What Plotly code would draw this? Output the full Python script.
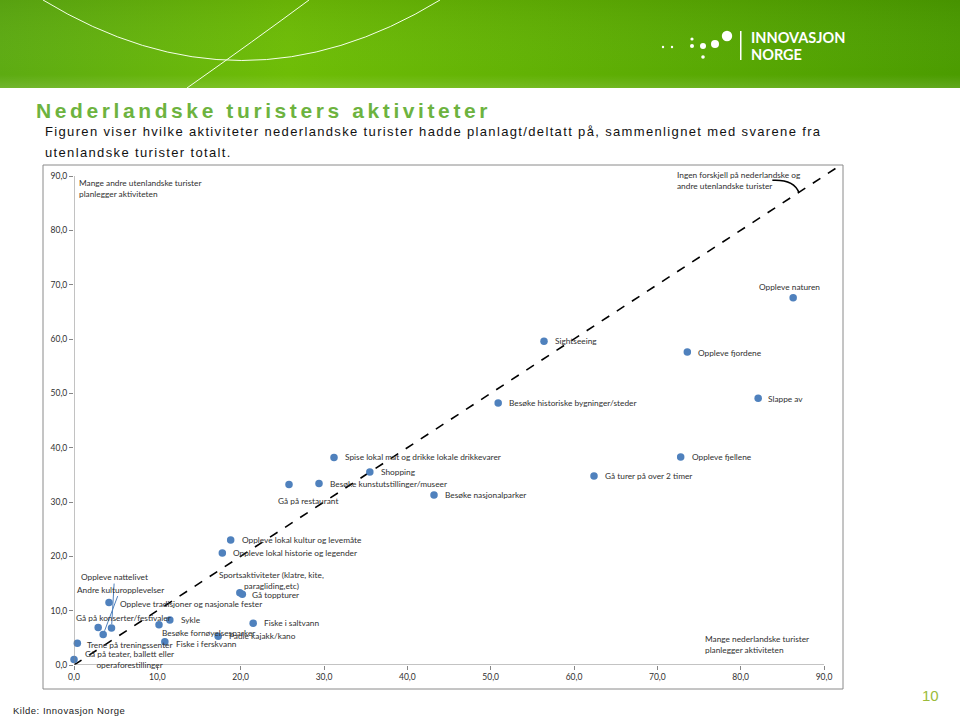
import urllib.parse
import plotly.graph_objects as go

# ---------------- data ----------------
activities = [
    "Oppleve naturen", "Sightseeing", "Oppleve fjordene", "Slappe av",
    "Besøke historiske bygninger/steder", "Oppleve fjellene", "Gå turer på over 2 timer",
    "Spise lokal mat og drikke lokale drikkevarer", "Shopping",
    "Besøke kunstutstillinger/museer", "Gå på restaurant", "Besøke nasjonalparker",
    "Oppleve lokal kultur og levemåte", "Oppleve lokal historie og legender",
    "Sportsaktiviteter (klatre, kite,<br>paragliding,etc)", "Gå toppturer",
    "Oppleve tradisjoner og nasjonale fester", "Oppleve nattelivet",
    "Andre kulturopplevelser", "Gå på konserter/festivaler", "Trene på treningssenter",
    "Gå på teater, ballett eller<br>operaforestillinger", "Sykle",
    "Besøke fornøyelsesparker", "Fiske i ferskvann", "Padle kajakk/kano", "Fiske i saltvann",
]
dutch_pct = [86.3, 56.4, 73.6, 82.1, 50.9, 72.8, 62.4, 31.2, 35.5, 29.4, 25.8, 43.2,
             18.8, 17.8, 19.9, 20.2, 4.2, 4.5, 3.5, 2.9, 0.4, 0.0, 11.5, 10.2, 10.9, 17.3, 21.5]
other_pct = [67.6, 59.6, 57.6, 49.1, 48.2, 38.3, 34.8, 38.2, 35.5, 33.4, 33.2, 31.3,
             23.0, 20.6, 13.3, 13.0, 11.5, 6.8, 5.6, 6.9, 4.0, 1.0, 8.3, 7.4, 4.3, 5.3, 7.7]
tick_values = [0, 10, 20, 30, 40, 50, 60, 70, 80, 90]

# ---------------- layout helpers ----------------
W, H = 960, 717
L, R, T, B = 74, 842, 166, 665          # plot-area pixel box
X_MAX, Y_MAX = 92.16, 91.84


def px(x):
    return (x - L) / (R - L)


def py(y):
    return (B - y) / (B - T)


LBL_FONT = dict(family="Lato, Liberation Sans, sans-serif", size=8.3, color="#303030")
BLUE = "#4f81bd"

# label placement (pixel offsets relative to each dot): xanchor, xshift, yshift, yanchor, align
default_place = ("left", 9, 0, "middle", "left")
place = {
    "Oppleve naturen": ("center", -4, 11, "middle", "center"),
    "Gå på restaurant": ("center", 19, -16, "middle", "center"),
    "Sportsaktiviteter (klatre, kite,<br>paragliding,etc)": ("center", 32, 0, "bottom", "center"),
    "Gå toppturer": ("left", 8, -1, "middle", "left"),
    "Oppleve tradisjoner og nasjonale fester": ("left", 9, -1, "middle", "left"),
    "Gå på konserter/festivaler": ("center", 25, 10, "middle", "center"),
    "Trene på treningssenter": ("left", 8, -2, "middle", "left"),
    "Gå på teater, ballett eller<br>operaforestillinger": ("center", 55, 0, "middle", "center"),
    "Besøke fornøyelsesparker": ("left", 1, -8, "middle", "left"),
    "Fiske i ferskvann": ("left", 9, -2, "middle", "left"),
    "Oppleve fjordene": ("left", 9, -1, "middle", "left"),
    "Slappe av": ("left", 8, -1, "middle", "left"),
}
leader = {  # labels connected with a thin line: text offset (ax, ay) in px
    "Oppleve nattelivet": (3, -51),
    "Andre kulturopplevelser": (17, -45),
}

fig = go.Figure()

# identity line (no difference)
fig.add_trace(go.Scatter(x=[0, X_MAX], y=[0, X_MAX], mode="lines",
                         line=dict(color="black", width=1.6, dash="dash"),
                         hoverinfo="skip", showlegend=False))
fig.add_trace(go.Scatter(x=dutch_pct, y=other_pct, mode="markers",
                         marker=dict(color=BLUE, size=7.5),
                         text=activities, cliponaxis=False, showlegend=False))

annotations = []
for name, xv, yv in zip(activities, dutch_pct, other_pct):
    if name in leader:
        ax, ay = leader[name]
        annotations.append(dict(x=xv, y=yv, xref="x", yref="y", text=name, showarrow=True,
                                ax=ax, ay=ay, arrowhead=0, arrowwidth=1, arrowcolor=BLUE,
                                standoff=4, font=LBL_FONT))
        continue
    xa, xs, ys, ya, al = place.get(name, default_place)
    annotations.append(dict(x=xv, y=yv, xref="x", yref="y", text=name, showarrow=False,
                            xanchor=xa, yanchor=ya, xshift=xs, yshift=ys, align=al,
                            font=LBL_FONT))

# corner notes
annotations += [
    dict(x=px(77), y=py(176), xref="paper", yref="paper", xanchor="left", yanchor="top",
         align="left", showarrow=False, font=LBL_FONT,
         text="Mange andre utenlandske turister<br>planlegger aktiviteten"),
    dict(x=px(675), y=py(168), xref="paper", yref="paper", xanchor="left", yanchor="top",
         align="left", showarrow=False, font=LBL_FONT,
         text="Ingen forskjell på nederlandske og<br>andre utenlandske turister"),
    dict(x=px(703), y=py(632), xref="paper", yref="paper", xanchor="left", yanchor="top",
         align="left", showarrow=False, font=LBL_FONT,
         text="Mange nederlandske turister<br>planlegger aktiviteten"),
]

# page texts
annotations += [
    dict(x=px(34), y=py(110), xref="paper", yref="paper", xanchor="left", yanchor="middle",
         showarrow=False,
         text='<b><span style="letter-spacing:3.6px">Nederlandske turisters aktiviteter</span></b>',
         font=dict(family="Liberation Sans, Arial, sans-serif", size=21, color="#6db33f")),
    dict(x=px(43), y=py(131), xref="paper", yref="paper", xanchor="left", yanchor="middle",
         showarrow=False,
         text='<span style="letter-spacing:1.35px">Figuren viser hvilke aktiviteter nederlandske '
              'turister hadde planlagt/deltatt på, sammenlignet med svarene fra</span>',
         font=dict(family="Liberation Sans, Arial, sans-serif", size=13, color="#111111")),
    dict(x=px(43), y=py(152), xref="paper", yref="paper", xanchor="left", yanchor="middle",
         showarrow=False,
         text='<span style="letter-spacing:1.35px">utenlandske turister totalt.</span>',
         font=dict(family="Liberation Sans, Arial, sans-serif", size=13, color="#111111")),
    dict(x=px(930), y=py(695), xref="paper", yref="paper", xanchor="center", yanchor="middle",
         showarrow=False, text="10",
         font=dict(family="Liberation Sans, Arial, sans-serif", size=15, color="#9bbb3b")),
    dict(x=px(11), y=py(710), xref="paper", yref="paper", xanchor="left", yanchor="middle",
         showarrow=False, text='<span style="letter-spacing:0.5px">Kilde: Innovasjon Norge</span>',
         font=dict(family="Liberation Sans, Arial, sans-serif", size=9.5, color="#222222")),
    dict(x=px(749), y=py(37), xref="paper", yref="paper", xanchor="left", yanchor="middle",
         showarrow=False, text="<b>INNOVASJON</b>",
         font=dict(family="Lato, sans-serif", size=14.5, color="white")),
    dict(x=px(749), y=py(54), xref="paper", yref="paper", xanchor="left", yanchor="middle",
         showarrow=False, text="<b>NORGE</b>",
         font=dict(family="Lato, sans-serif", size=14.5, color="white")),
]

# header banner as inline SVG
svg = (
    "<svg xmlns='http://www.w3.org/2000/svg' width='960' height='88' viewBox='0 0 960 88' "
    "preserveAspectRatio='none'>"
    "<defs><linearGradient id='g' x1='0' x2='1' y1='0' y2='0'>"
    "<stop offset='0' stop-color='#5dab12'/><stop offset='0.3' stop-color='#6ebd06'/>"
    "<stop offset='0.55' stop-color='#62b204'/><stop offset='1' stop-color='#4b9c00'/>"
    "</linearGradient>"
    "<linearGradient id='v' x1='0' x2='0' y1='0' y2='1'>"
    "<stop offset='0' stop-color='#000' stop-opacity='0.06'/>"
    "<stop offset='0.85' stop-color='#fff' stop-opacity='0'/>"
    "<stop offset='1' stop-color='#fff' stop-opacity='0.12'/></linearGradient></defs>"
    "<rect width='960' height='88' fill='url(#g)'/>"
    "<rect width='960' height='88' fill='url(#v)'/>"
    "<path d='M43,0 Q242,121 440,0' stroke='#f4ffe8' stroke-width='1' fill='none'/>"
    "<path d='M309,0 Q255,40 187,88' stroke='#f4ffe8' stroke-width='1' fill='none'/>"
    "<g fill='white'>"
    "<circle cx='663' cy='47' r='1.2'/><circle cx='672' cy='47' r='1.2'/>"
    "<circle cx='692' cy='39' r='1.6'/><circle cx='692' cy='46' r='2'/>"
    "<circle cx='703' cy='46' r='3'/><circle cx='715' cy='44' r='4'/>"
    "<circle cx='727' cy='36' r='5.2'/><circle cx='703' cy='57' r='1.8'/>"
    "<rect x='740' y='31' width='1.5' height='29'/></g>"
    "</svg>"
)
img_src = "data:image/svg+xml;charset=utf-8," + urllib.parse.quote(svg)

shapes = [
    # chart frame
    dict(type="rect", xref="paper", yref="paper", x0=px(43), x1=px(843), y0=py(689), y1=py(165),
         line=dict(color="#8a8a8a", width=1), layer="below"),
    # axis lines
    dict(type="line", xref="x", yref="y", x0=0, x1=tick_values[-1], y0=0, y1=0,
         line=dict(color="#868686", width=1)),
    dict(type="line", xref="x", yref="y", x0=0, x1=0, y0=0, y1=tick_values[-1],
         line=dict(color="#868686", width=1)),
    # curved pointer to the identity line
    dict(type="path", xref="x", yref="y", path="M 83.8,89.2 Q 86.4,89.4 87.0,86.9",
         line=dict(color="black", width=1.5)),
]

axis_common = dict(showgrid=False, zeroline=False, showline=False, ticks="outside",
                   ticklen=4, tickcolor="#868686", tickvals=tick_values, tickformat=".1f",
                   tickfont=dict(family="Lato, Liberation Sans, sans-serif", size=8.5,
                                 color="#303030"))

fig.update_layout(
    width=W, height=H, autosize=False,
    margin=dict(l=L, r=W - R, t=T, b=H - B, pad=0),
    paper_bgcolor="white", plot_bgcolor="rgba(0,0,0,0)",
    separators=",.",
    xaxis=dict(range=[0, X_MAX], **axis_common),
    yaxis=dict(range=[0, Y_MAX], **axis_common),
    annotations=annotations, shapes=shapes, showlegend=False,
    images=[dict(source=img_src, xref="paper", yref="paper", x=px(0), y=py(0),
                 sizex=px(960) - px(0), sizey=py(0) - py(88), xanchor="left", yanchor="top",
                 sizing="stretch", layer="below")],
    hovermode="closest",
)

fig.write_html(
    "out.html",
    config={"displayModeBar": False},
    post_script="document.body.style.margin='0';document.body.style.overflow='hidden';",
)
